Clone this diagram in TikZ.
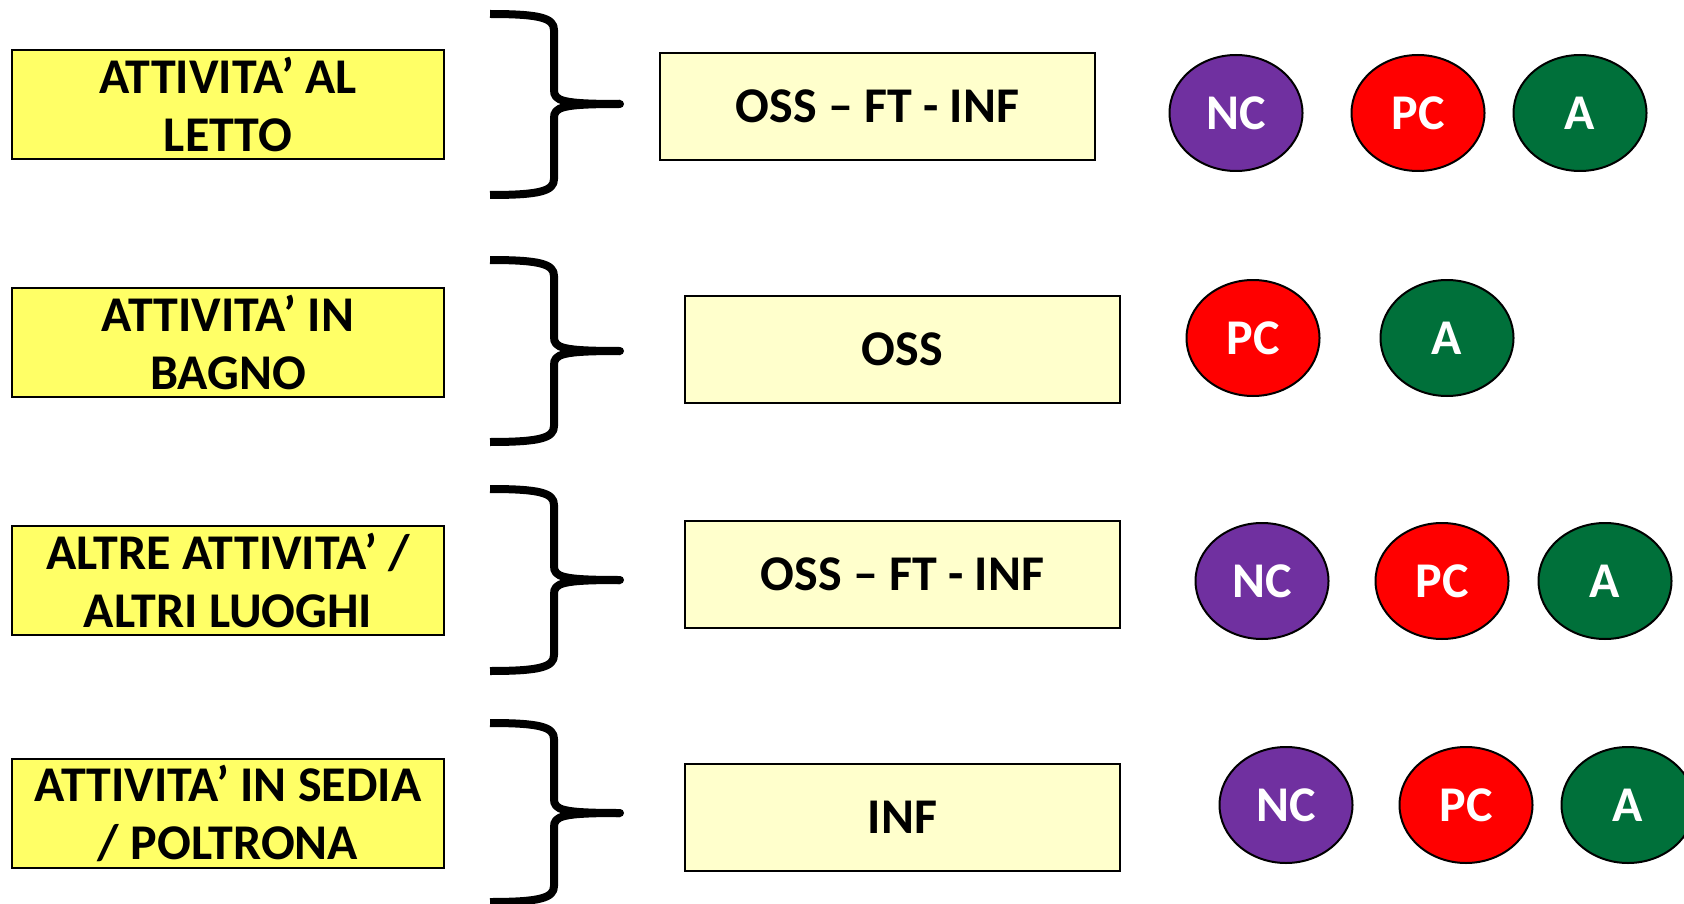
\documentclass[tikz,border=0pt]{standalone}
\usepackage{fontspec}
\setmainfont{Carlito}
\usetikzlibrary{shapes.geometric}
\definecolor{boxyellow}{HTML}{FFFF66}
\definecolor{paleyellow}{HTML}{FFFFCC}
\definecolor{ncpurple}{HTML}{7030A0}
\definecolor{pcred}{HTML}{FF0000}
\definecolor{agreen}{HTML}{00703A}
\tikzset{
  txt/.style={font=\bfseries\fontsize{50}{58}\selectfont},
  actbox/.style={txt, draw, line width=2pt, fill=boxyellow, minimum width=432pt, minimum height=109pt, inner sep=0pt, align=center},
  rolebox/.style={txt, draw, line width=2pt, fill=paleyellow, minimum width=435pt, minimum height=107pt, inner sep=0pt, align=center},
  badge/.style={ellipse, draw, line width=2pt, minimum width=133pt, minimum height=116pt, inner sep=0pt, text=white, font=\bfseries\fontsize{50}{54}\selectfont},
  nc/.style={badge, fill=ncpurple},
  pc/.style={badge, fill=pcred},
  aa/.style={badge, fill=agreen},
  bracepath/.style={line width=8pt, line join=round, line cap=butt}
}
\newcommand{\mybrace}[3]{%
  \draw[bracepath] (490,#1) .. controls (540,#1) and (554,#1+4) .. (554,#1+16)
    -- (554,#2-14) .. controls (554,#2-3) and (562,#2) .. (620,#2);
  \draw[bracepath] (620,#2) .. controls (562,#2) and (554,#2+3) .. (554,#2+14)
    -- (554,#3-16) .. controls (554,#3-4) and (540,#3) .. (490,#3);
  \fill (620,#2) circle (4pt);
}
\begin{document}
\begin{tikzpicture}[x=1pt,y=-1pt]
\useasboundingbox (0,0) rectangle (1684,904);
% activity boxes
\node[actbox] (a1) at (228,104.5) {ATTIVITA’ AL\\LETTO};
\node[actbox] (a2) at (228,342) {ATTIVITA’ IN\\BAGNO};
\node[actbox] (a3) at (228,580) {ALTRE ATTIVITA’ /\\ALTRI LUOGHI};
\node[actbox] (a4) at (228,813.5) {ATTIVITA’ IN SEDIA\\/ POLTRONA};
% braces
\mybrace{14}{104}{195}
\mybrace{260}{351}{442}
\mybrace{489}{580}{671}
\mybrace{723}{813}{902}
% role boxes
\node[rolebox] (r1) at (877.5,106.5) {OSS – FT - INF};
\node[rolebox] (r2) at (902.5,349) {OSS};
\node[rolebox] (r3) at (902.5,574.5) {OSS – FT - INF};
\node[rolebox] (r4) at (902.5,817) {INF};
% badges
\node[nc] (nc1) at (1236,113) {NC};
\node[pc] (pc1) at (1418,113) {PC};
\node[aa] (aa1) at (1580,113) {A};
\node[pc] (pc2) at (1253,338) {PC};
\node[aa] (aa2) at (1447,338) {A};
\node[nc] (nc3) at (1262,581) {NC};
\node[pc] (pc3) at (1442,581) {PC};
\node[aa] (aa3) at (1605,581) {A};
\node[nc] (nc4) at (1286,805) {NC};
\node[pc] (pc4) at (1466,805) {PC};
\node[aa] (aa4) at (1628,805) {A};
\end{tikzpicture}
\end{document}
